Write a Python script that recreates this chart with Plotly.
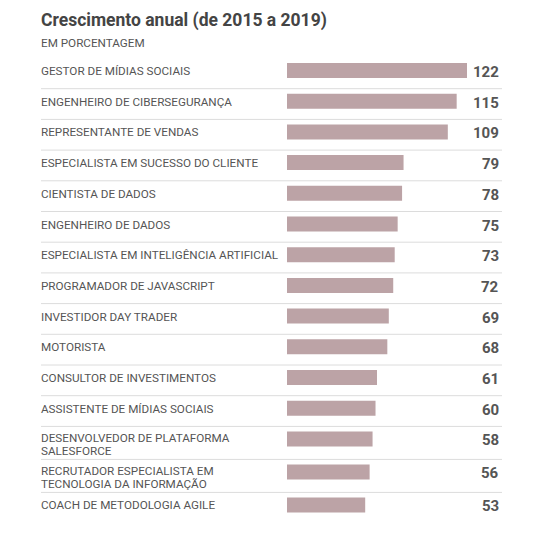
import plotly.graph_objects as go

categorias = [
    "GESTOR DE MÍDIAS SOCIAIS",
    "ENGENHEIRO DE CIBERSEGURANÇA",
    "REPRESENTANTE DE VENDAS",
    "ESPECIALISTA EM SUCESSO DO CLIENTE",
    "CIENTISTA DE DADOS",
    "ENGENHEIRO DE DADOS",
    "ESPECIALISTA EM INTELIGÊNCIA ARTIFICIAL",
    "PROGRAMADOR DE JAVASCRIPT",
    "INVESTIDOR DAY TRADER",
    "MOTORISTA",
    "CONSULTOR DE INVESTIMENTOS",
    "ASSISTENTE DE MÍDIAS SOCIAIS",
    "DESENVOLVEDOR DE PLATAFORMA<br>SALESFORCE",
    "RECRUTADOR ESPECIALISTA EM<br>TECNOLOGIA DA INFORMAÇÃO",
    "COACH DE METODOLOGIA AGILE",
]
valores = [122, 115, 109, 79, 78, 75, 73, 72, 69, 68, 61, 60, 58, 56, 53]

# a página tem margem de 8px no body
OFF = 8
W, H = 558 - 2 * OFF, 550 - 2 * OFF
FONT = "Roboto"
TXT = "#555555"
n = len(categorias)

TOPO, BASE = 55.5, 520.5  # eixo y em pixels da tela


def px(x):
    return (x - OFF) / W


def py(y):
    return 1 - (y - OFF) / H


# altura de cada linha depende do número de linhas do rótulo
linhas = [c.split("<br>") for c in categorias]
pos = []
y = 70.5
for ls in linhas:
    pos.append(y)
    y += 30.7 + 2.3 * (len(ls) - 1)

fig = go.Figure()
fig.add_trace(go.Bar(
    x=valores, y=pos, orientation="h", width=15,
    marker=dict(color="#bca3a6", line=dict(width=0)),
    hoverinfo="skip",
))

# rótulos das categorias e valores
for i, (ls, v) in enumerate(zip(linhas, valores)):
    y0 = pos[i] + 0.5 if len(ls) == 1 else pos[i] - 1
    for j, txt in enumerate(ls):
        fig.add_annotation(
            x=px(39), xref="paper", y=y0 + 13 * j, yref="y", text=txt,
            xanchor="left", yanchor="middle", align="left", showarrow=False,
            font=dict(family=FONT, size=11.7, color=TXT),
        )
    fig.add_annotation(
        x=px(501), xref="paper", y=pos[i] + 1.5, yref="y", text=f"<b>{v}</b>",
        xanchor="right", yanchor="middle", showarrow=False,
        font=dict(family=FONT, size=15, color=TXT),
    )

# linhas separadoras
for i in range(1, n):
    ys = pos[i] - 12.5
    fig.add_shape(
        type="line", xref="paper", yref="y",
        x0=px(41), x1=px(502), y0=ys, y1=ys,
        line=dict(color="#dcdcdc", width=1),
    )

fig.add_annotation(
    x=px(39), xref="paper", y=py(20), yref="paper",
    text="<b>Crescimento anual (de 2015 a 2019)</b>",
    xanchor="left", yanchor="middle", showarrow=False,
    font=dict(family=FONT, size=17.5, color="#444444"),
)
fig.add_annotation(
    x=px(39), xref="paper", y=py(43), yref="paper",
    text="EM PORCENTAGEM",
    xanchor="left", yanchor="middle", showarrow=False,
    font=dict(family=FONT, size=11.7, color=TXT),
)

fig.update_layout(
    width=W, height=H,
    margin=dict(l=0, r=0, t=0, b=0),
    paper_bgcolor="white", plot_bgcolor="white",
    showlegend=False,
    xaxis=dict(domain=[px(287), px(467)], range=[0, 122], visible=False, fixedrange=True),
    yaxis=dict(domain=[py(BASE), py(TOPO)], range=[BASE, TOPO],
               visible=False, fixedrange=True),
)

fig.write_html("out.html")
